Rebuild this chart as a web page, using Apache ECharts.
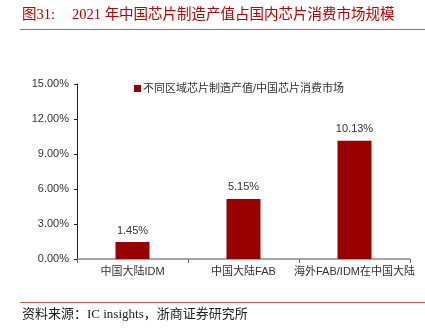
<!DOCTYPE html>
<html>
<head>
<meta charset="utf-8">
<script src="https://cdn.jsdelivr.net/npm/echarts@6/dist/echarts.min.js"></script>
<style>
  html, body { margin: 0; padding: 0; background: #fff; }
  #chart { width: 425px; height: 333px; }
</style>
</head>
<body>
<div id="chart"></div>
<script>
// Chip manufacturing output as a share of the domestic chip consumption market, 2021
const categories = ['中国大陆IDM', '中国大陆FAB', '海外FAB/IDM在中国大陆'];
const shareValues = [1.45, 5.15, 10.13];
const yTicks = [0, 3, 6, 9, 12, 15];
const seriesName = '不同区域芯片制造产值/中国芯片消费市场';
const figureLabel = '图31:';
const titleText = '2021 年中国芯片制造产值占国内芯片消费市场规模';
const sourceText = '资料来源：IC insights，浙商证券研究所';

const chart = echarts.init(document.getElementById('chart'), null, { renderer: 'canvas' });
const sansFont = '"Liberation Sans", Arial, "Noto Sans CJK SC", sans-serif';
const serifFont = '"Liberation Serif", "Times New Roman", "Noto Sans CJK SC", serif';

chart.setOption({
  animation: false,
  backgroundColor: '#ffffff',
  graphic: [
    {
      type: 'text', left: 22, top: 8,
      style: { text: figureLabel, font: '14.5px ' + serifFont, fill: '#c00000' }
    },
    {
      type: 'text', left: 72, top: 8,
      style: { text: titleText, font: '14.5px ' + serifFont, fill: '#c00000' }
    },
    {
      type: 'line', shape: { x1: 20, y1: 29.5, x2: 425, y2: 29.5 },
      style: { stroke: '#d9534f', lineWidth: 1.2 }
    },
    {
      type: 'line', shape: { x1: 20, y1: 302.5, x2: 425, y2: 302.5 },
      style: { stroke: '#d9534f', lineWidth: 1.2 }
    },
    {
      type: 'text', left: 22, top: 308,
      style: { text: sourceText, font: '13px ' + serifFont, fill: '#222' }
    }
  ],
  legend: {
    data: [seriesName],
    left: 129, top: 78,
    itemWidth: 7, itemHeight: 7, itemGap: 4,
    icon: 'rect',
    textStyle: { fontSize: 11, color: '#333', fontFamily: sansFont, padding: [0, 0, 0, -3] }
  },
  grid: { left: 77, right: 15, top: 84, bottom: 74, containLabel: false },
  xAxis: {
    type: 'category',
    data: categories,
    axisLine: { lineStyle: { color: '#888', width: 1.5 } },
    axisTick: { show: true, alignWithLabel: false, length: 4, lineStyle: { color: '#666' } },
    axisLabel: { fontSize: 11, color: '#333', fontFamily: sansFont, margin: 7, interval: 0 }
  },
  yAxis: {
    type: 'value',
    min: yTicks[0], max: yTicks[yTicks.length - 1], interval: 3,
    axisLine: { show: true, lineStyle: { color: '#222', width: 1 } },
    axisTick: { show: true, length: 3, inside: false, lineStyle: { color: '#222' } },
    splitLine: { show: false },
    axisLabel: {
      fontSize: 11, color: '#333', fontFamily: sansFont, margin: 8,
      formatter: v => v.toFixed(2) + '%'
    }
  },
  series: [{
    name: seriesName,
    type: 'bar',
    data: shareValues,
    barWidth: 34,
    itemStyle: { color: '#990000' },
    label: {
      show: true, position: 'top', distance: 6,
      fontSize: 11, color: '#333', fontFamily: sansFont,
      formatter: p => p.value.toFixed(2) + '%'
    }
  }]
});
</script>
</body>
</html>
